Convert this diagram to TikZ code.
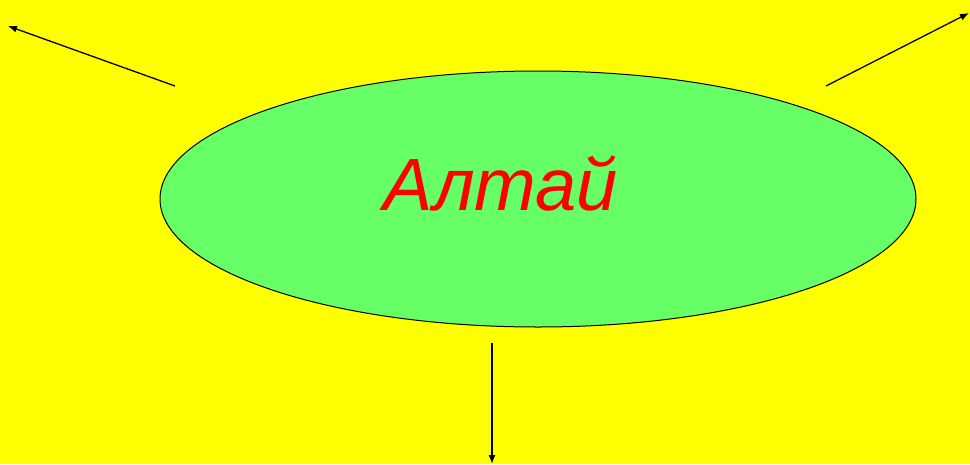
\documentclass[tikz,border=0pt]{standalone}
\usepackage{fontspec}
\setmainfont{Liberation Sans}
\usetikzlibrary{arrows.meta,positioning,shapes.geometric}
\definecolor{bgyellow}{RGB}{255,255,0}
\definecolor{softgreen}{RGB}{102,255,102}
\definecolor{titlered}{RGB}{255,0,0}
\tikzset{
  region/.style={ellipse, draw=black, line width=1pt, fill=softgreen, minimum width=756pt, minimum height=256pt, inner sep=0pt},
  title/.style={font=\fontsize{74}{78}\selectfont\itshape, text=titlered, inner sep=0pt},
  arrow/.style={-{Latex[length=9pt,width=7pt]}, line width=1.3pt, black},
}
\begin{document}
\begin{tikzpicture}[x=1pt, y=-1pt]
\fill[bgyellow] (0,0) rectangle (970,464);
\useasboundingbox (0,0) rectangle (970,464);
\node[region] (altai) at (538,199) {};
\node[title, anchor=base] (name) at (501,210) {Алтай};
% arrows
\coordinate (nwfrom) at (175,86);
\coordinate (nwto) at (8,26);
\coordinate (nefrom) at (826,86);
\coordinate (neto) at (969,13);
\coordinate (sfrom) at (492,343);
\coordinate (sto) at (492,464);
\foreach \a/\b in {nwfrom/nwto, nefrom/neto, sfrom/sto}
  \draw[arrow] (\a) -- (\b);
\end{tikzpicture}
\end{document}
